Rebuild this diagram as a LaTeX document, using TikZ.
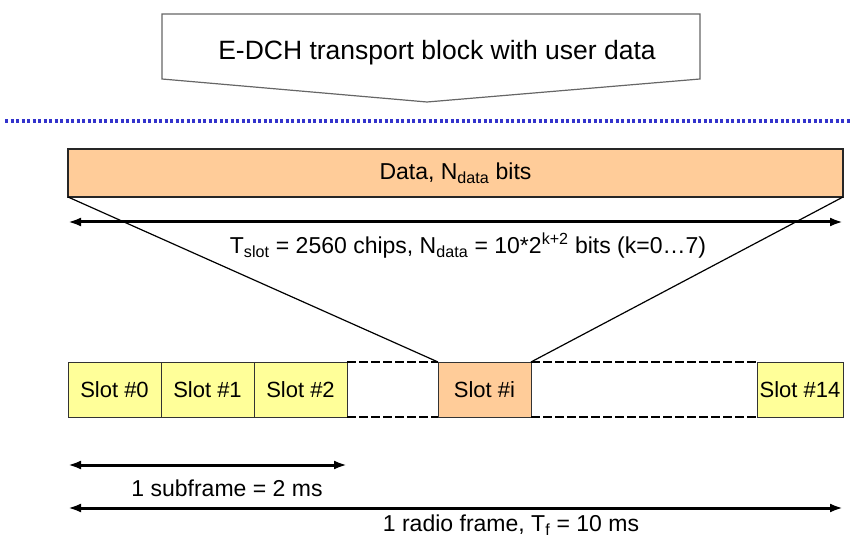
\documentclass[tikz,border=0pt]{standalone}
\usepackage{fontspec}
\setmainfont{Liberation Sans}
\usepackage{tikz}
\usetikzlibrary{positioning,shapes,arrows.meta}

\definecolor{slotyellow}{RGB}{255,255,153}
\definecolor{dataorange}{RGB}{255,204,153}
\definecolor{sepblue}{RGB}{51,51,204}

\tikzset{
  slotbox/.style={draw=black!80, fill=slotyellow, minimum width=93pt, minimum height=55pt,
    inner sep=0pt, outer sep=0pt, font=\fontsize{22}{24}\selectfont},
  dimline/.style={line width=3pt, {Latex[length=13pt,width=9pt]}-{Latex[length=13pt,width=9pt]}},
  lbl/.style={font=\fontsize{23}{25}\selectfont, inner sep=0pt}
}

\begin{document}
\begin{tikzpicture}[x=1pt,y=-1pt]
\useasboundingbox (0,0) rectangle (854,537);
% transport block
\draw[black!60, line width=1.2pt] (162,14) -- (700,14) -- (700,79) -- (427,102) -- (162,79) -- cycle;
\node (tb) [font=\fontsize{26.5}{28}\selectfont] at (437,53) {E-DCH transport block with user data};
% separator
\coordinate (sepL) at (5,121);
\coordinate (sepR) at (851,121);
\draw[sepblue, line width=3.5pt, dash pattern=on 3pt off 2.5pt] (sepL) -- (sepR);
% data field
\node (data) [draw=black!85, line width=1.2pt, fill=dataorange, minimum width=775pt, minimum height=48pt,
  outer sep=0pt, font=\fontsize{23}{25}\selectfont] at (455.5,173) {Data, N\textsubscript{data} bits};
\coordinate (tsL) at (68,222);
\coordinate (tsR) at (843,222);
\draw[dimline] (tsL) -- (tsR);
\node (ts) [lbl] at (468,246) {T\textsubscript{slot} = 2560 chips, N\textsubscript{data} = 10*2\textsuperscript{k+2} bits (k=0…7)};
% slots
\node (slot0) [slotbox, anchor=north west] at (68,362) {Slot \#0};
\node (slot1) [slotbox, right=0pt of slot0] {Slot \#1};
\node (slot2) [slotbox, right=0pt of slot1] {Slot \#2};
\node (sloti) [slotbox, fill=dataorange, anchor=north west] at (438,362) {Slot \#i};
\node (slot14) [slotbox, minimum width=86pt, anchor=north west] at (757,362) {Slot \#14};
\draw[dashed, line width=1.8pt, dash pattern=on 9pt off 3pt] (slot2.north east) -- (sloti.north west);
\draw[dashed, line width=1.8pt, dash pattern=on 9pt off 3pt] (slot2.south east) -- (sloti.south west);
\draw[dashed, line width=1.8pt, dash pattern=on 9pt off 3pt] (sloti.north east) -- (slot14.north west);
\draw[dashed, line width=1.8pt, dash pattern=on 9pt off 3pt] (sloti.south east) -- (slot14.south west);
\draw[line width=1.2pt] (data.south west) -- (sloti.north west);
\draw[line width=1.2pt] (data.south east) -- (sloti.north east);
% durations
\coordinate (sfL) at (68,465);
\coordinate (sfR) at (347,465);
\draw[dimline] (sfL) -- (sfR);
\node (sf) [lbl] at (227,488) {1 subframe = 2 ms};
\coordinate (rfL) at (68,508);
\coordinate (rfR) at (843,508);
\draw[dimline] (rfL) -- (rfR);
\node (rf) [lbl] at (511,525) {1 radio frame, T\textsubscript{f} = 10 ms};
\end{tikzpicture}
\end{document}
